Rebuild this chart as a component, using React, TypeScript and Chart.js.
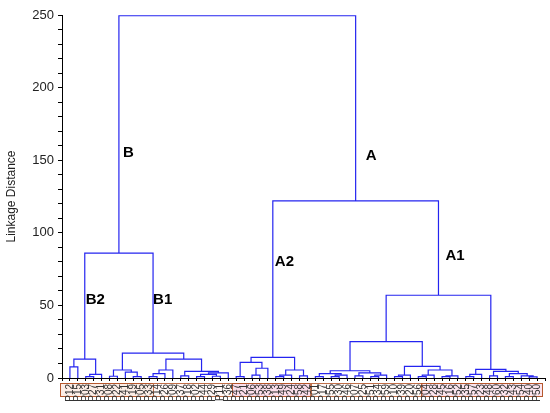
import React, { useEffect, useRef } from "react";
import { Chart, registerables } from "chart.js";

Chart.register(...registerables);

type Node = number | [Node, Node, number, string?];

// Leaf labels (left to right)
const leafLabels = [
  "P12", "P15", "P03", "P27", "P31", "P08", "P22", "P41", "P19", "P05",
  "P33", "P14", "P26", "P09", "P37", "P18", "P02", "P44", "P29", "P11",
  "P36", "P47", "P21", "P06", "P53", "P38", "P13", "P49", "P24", "P58",
  "P42", "P01", "P17", "P55", "P30", "P46", "P07", "P25", "P51", "P34",
  "P59", "P10", "P39", "P20", "P56", "P04", "P28", "P45", "P16", "P52",
  "P35", "P57", "P23", "P48", "P60", "P32", "P43", "P54", "P40", "P50",
];

// Clusters: [left, right, linkage distance, name?]  (leaves = index into leafLabels)
const clusterB2: Node = [[0, 1, 7.6], [[2, 3, 1], 4, 2.5], 13, "B2"];
const clusterB1: Node = [
  [[5, 6, 1.2], [7, [8, 9, 1], 4], 5.5],
  [
    [[[10, 11, 1], 12, 3], 13, 5.5],
    [[14, 15, 1.5], [[[16, 17, 1], [18, 19, 1.2], 2.5], 20, 3.5], 4.5],
    13,
  ],
  17.2,
  "B1",
];
const clusterA2: Node = [
  [[21, 22, 1], [[23, 24, 2], 25, 6.7], 10.8],
  [[[26, 27, 1], 28, 2], [29, 30, 1.5], 5.5],
  14.2,
  "A2",
];
const clusterA1: Node = [
  [
    [[[31, 32, 1], [[33, 34, 1], 35, 2], 3], [[36, 37, 1.5], [[38, 39, 1], 40, 2], 3.5], 5],
    [[[41, 42, 1], 43, 2], [[[44, 45, 1], 46, 2], [[47, 48, 1], 49, 1.5], 5.5], 8],
    25,
  ],
  [[[50, 51, 1], 52, 2.5], [[53, 54, 1.5], [[55, 56, 1], [57, [58, 59, 0.8], 1.5], 3], 4.5], 6],
  57,
  "A1",
];
const rootTree: Node = [[clusterB2, clusterB1, 86, "B"], [clusterA2, clusterA1, 122, "A"], 249.5];

// Linkage distance at which each cluster name is written, and its gap from the branch (px)
const clusterNames = ["B", "A", "B2", "B1", "A2", "A1"];
const clusterNameLevels = [155, 153, 54, 54, 80, 84];
const clusterNameGaps = [4, 10, 1, 0, 2, 7];

// Leaf groups boxed below the axis (boundaries in leaf units)
const groupBounds = [-1.25, 10.5, 20.5, 30.4, 44.4, 59.7];
const groupFills = [
  "rgba(250,222,210,0.55)",
  "rgba(255,238,232,0.45)",
  "rgba(248,198,220,0.6)",
  "rgba(255,242,236,0.45)",
  "rgba(248,210,225,0.6)",
];

const yTicks = [0, 50, 100, 150, 200, 250];

function buildLayout(node: Node, segs: any[], names: { name: string; x: number }[]): { x: number; h: number } {
  if (typeof node === "number") return { x: node, h: 0 };
  const [l, r, h, name] = node;
  const a = buildLayout(l, segs, names);
  const b = buildLayout(r, segs, names);
  segs.push({ x: a.x, y: a.h }, { x: a.x, y: h }, { x: b.x, y: h }, { x: b.x, y: b.h }, { x: b.x, y: null });
  const x = (a.x + b.x) / 2;
  if (name) names.push({ name, x });
  return { x, h };
}

const FONT = "'Liberation Sans', Arial, sans-serif";

export default function App() {
  const ref = useRef<HTMLCanvasElement | null>(null);
  useEffect(() => {
    document.body.style.margin = "0";
    const segs: any[] = [];
    const names: { name: string; x: number }[] = [];
    buildLayout(rootTree, segs, names);

    const boxesPlugin = {
      id: "boxes",
      beforeDraw(chart: any) {
        const { ctx, scales } = chart;
        const xs = scales.x;
        const top = chart.chartArea.bottom + 5;
        const bottom = top + 13;
        ctx.save();
        for (let i = 0; i < groupBounds.length - 1; i++) {
          const x0 = xs.getPixelForValue(groupBounds[i]);
          const x1 = xs.getPixelForValue(groupBounds[i + 1]);
          ctx.fillStyle = groupFills[i];
          ctx.fillRect(x0, top, x1 - x0, bottom - top);
          ctx.strokeStyle = i % 2 === 0 ? "#b5582e" : "#c0704a";
          ctx.lineWidth = 1;
          ctx.strokeRect(Math.round(x0) + 0.5, top + 0.5, Math.round(x1 - x0), bottom - top);
        }
        ctx.restore();
      },
    };

    const namesPlugin = {
      id: "names",
      afterDatasetsDraw(chart: any) {
        const { ctx, scales } = chart;
        ctx.save();
        ctx.font = `bold 15px ${FONT}`;
        ctx.fillStyle = "#000";
        ctx.textBaseline = "middle";
        ctx.textAlign = "left";
        clusterNames.forEach((nm, i) => {
          const n = names.find((q) => q.name === nm);
          if (!n) return;
          const px = scales.x.getPixelForValue(n.x) + clusterNameGaps[i];
          const py = scales.y.getPixelForValue(clusterNameLevels[i]);
          ctx.fillText(nm, px, py);
        });
        ctx.restore();
      },
    };

    const chart = new Chart(ref.current!, {
      type: "line",
      data: {
        datasets: [
          {
            data: segs,
            borderColor: "#2424f0",
            borderWidth: 1.2,
            pointRadius: 0,
            spanGaps: false,
            fill: false,
            tension: 0,
          } as any,
        ],
      },
      options: {
        animation: false,
        responsive: false,
        layout: { padding: { top: 15, right: 5, left: 0, bottom: 0 } },
        plugins: { legend: { display: false }, tooltip: { enabled: false } },
        scales: {
          x: {
            type: "linear",
            min: -1,
            max: 60,
            ticks: {
              stepSize: 1,
              autoSkip: false,
              minRotation: 90,
              maxRotation: 90,
              padding: 3,
              color: "#333",
              font: { family: FONT, size: 10 },
              callback: (v: any) => (leafLabels[v as number] ?? ""),
            },
            grid: { drawOnChartArea: false, tickLength: 3, color: "#000" },
            border: { color: "#000", width: 1 },
            afterFit: (s: any) => {
              s.height = 35;
              s.paddingLeft = 0;
              s.paddingRight = 0;
            },
          },
          y: {
            min: 0,
            max: 250,
            ticks: {
              stepSize: 10,
              autoSkip: false,
              padding: 4,
              color: "#222",
              font: { family: FONT, size: 13 },
              callback: (v: any) => (yTicks.includes(v as number) ? String(v) : ""),
            },
            grid: { drawOnChartArea: false, tickLength: 4, color: "#000" },
            border: { color: "#000", width: 1 },
            title: {
              display: true,
              text: "Linkage Distance",
              color: "#222",
              font: { family: FONT, size: 12 },
              padding: { top: 4, bottom: 0 },
            },
            afterFit: (s: any) => {
              s.width = 62;
            },
          },
        },
      },
      plugins: [boxesPlugin, namesPlugin],
    });
    return () => chart.destroy();
  }, []);
  return <canvas ref={ref} width={550} height={413} style={{ display: "block" }} />;
}
